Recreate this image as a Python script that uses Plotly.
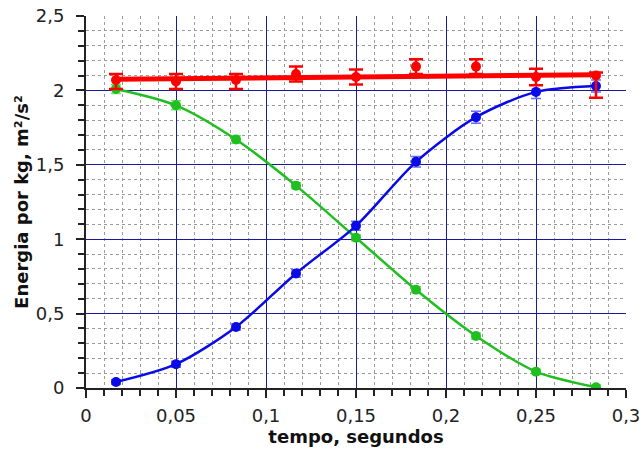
import plotly.graph_objects as go

t = [1/60, 3/60, 5/60, 7/60, 9/60, 11/60, 13/60, 15/60, 17/60]
green_y = [2.01, 1.90, 1.67, 1.36, 1.01, 0.66, 0.35, 0.11, 0.005]
green_err = [0.03, 0.03, 0.025, 0.02, 0.02, 0.02, 0.02, 0.015, 0.015]
blue_y = [0.04, 0.16, 0.41, 0.77, 1.09, 1.52, 1.82, 1.99, 2.03]
blue_err = [0.015, 0.02, 0.02, 0.025, 0.03, 0.035, 0.04, 0.045, 0.04]
red_y = [2.07, 2.06, 2.07, 2.11, 2.09, 2.16, 2.16, 2.09, 2.10]
red_err_plus = [0.04, 0.05, 0.04, 0.05, 0.05, 0.05, 0.05, 0.055, 0.02]
red_err_minus = [0.06, 0.05, 0.06, 0.05, 0.05, 0.05, 0.05, 0.055, 0.15]
fit_x = [1/60, 17/60]
fit_y = [2.075, 2.105]

GREEN = "#1fbf1f"
BLUE = "#0a0ae6"
RED = "#ff0000"

fig = go.Figure()
fig.add_trace(go.Scatter(
    x=t, y=green_y, mode="lines+markers",
    line=dict(color=GREEN, width=2.5, shape="spline", smoothing=0.8),
    marker=dict(color=GREEN, size=10),
    error_y=dict(type="data", array=green_err, color="#66ee66", thickness=1.5, width=5),
    showlegend=False))
fig.add_trace(go.Scatter(
    x=t, y=blue_y, mode="lines+markers",
    line=dict(color=BLUE, width=2.5, shape="spline", smoothing=0.8),
    marker=dict(color=BLUE, size=10),
    error_y=dict(type="data", array=blue_err, color="#6a6aff", thickness=1.5, width=5),
    showlegend=False))
fig.add_trace(go.Scatter(
    x=fit_x, y=fit_y, mode="lines",
    line=dict(color=RED, width=5), showlegend=False))
fig.add_trace(go.Scatter(
    x=t, y=red_y, mode="markers",
    marker=dict(color=RED, size=10),
    error_y=dict(type="data", symmetric=False, array=red_err_plus,
                 arrayminus=red_err_minus, color=RED, thickness=2.5, width=7),
    showlegend=False))

font = "DejaVu Sans, Verdana, sans-serif"
fig.update_layout(
    width=644, height=455,
    margin=dict(l=86, r=18, t=16, b=67),
    paper_bgcolor="white", plot_bgcolor="white",
    separators=", ",
    font=dict(family=font, size=18, color="#222"),
    xaxis=dict(
        range=[0, 0.3], dtick=0.05, tick0=0, automargin=False,
        showline=True, linecolor="#222", linewidth=2,
        ticks="outside", ticklen=8, tickcolor="#222", tickwidth=1.5,
        showgrid=True, gridcolor="#1a1aa0", gridwidth=1.2,
        zeroline=False, ticklabelstandoff=2,
        minor=dict(dtick=0.01, ticks="outside", ticklen=6, tickcolor="#222",
                   showgrid=True, gridcolor="#9a9a9a", griddash="dot", gridwidth=1),
        title=dict(text="<b>tempo, segundos</b>", font=dict(size=18, color="#111"), standoff=4),
        tickfont=dict(size=18),
    ),
    yaxis=dict(
        range=[0, 2.5], dtick=0.5, tick0=0, automargin=False,
        showline=True, linecolor="#222", linewidth=2,
        ticks="outside", ticklen=8, tickcolor="#222", tickwidth=1.5,
        showgrid=True, gridcolor="#1a1aa0", gridwidth=1.2,
        zeroline=False, ticklabelstandoff=8,
        minor=dict(dtick=0.1, ticks="outside", ticklen=6, tickcolor="#222",
                   showgrid=True, gridcolor="#9a9a9a", griddash="dot", gridwidth=1),
        title=dict(text="<b>Energia por kg, m²/s²</b>", font=dict(size=18, color="#111"), standoff=2),
        tickfont=dict(size=18),
    ),
)
fig.write_html("out.html", config={"displayModeBar": False},
               post_script="document.body.style.margin='0px';document.body.style.overflow='hidden';")
